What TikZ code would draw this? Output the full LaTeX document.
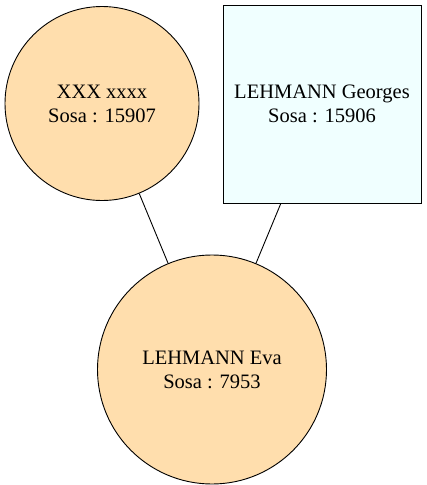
\documentclass[tikz,border=0pt]{standalone}
\usepackage{fontspec}
\setmainfont{Liberation Serif}
\definecolor{personfill}{HTML}{FFDEAD}
\definecolor{boxfill}{HTML}{F0FFFF}
\begin{document}
\begin{tikzpicture}[x=1pt,y=-1pt,
  person/.style={circle,draw=black,line width=0.9pt,fill=personfill,inner sep=0pt,align=center,font=\fontsize{20.5}{24}\selectfont},
  personbox/.style={rectangle,draw=black,line width=0.9pt,fill=boxfill,inner sep=0pt,align=center,font=\fontsize{20.5}{24}\selectfont},
  link/.style={draw=black,line width=0.9pt}]
\useasboundingbox (0,0) rectangle (427,485);
\node[person,minimum size=194pt] (xxx) at (102,103.5) {XXX xxxx\\Sosa : 15907};
\node[personbox,minimum width=198pt,minimum height=198pt] (georges) at (322,104) {LEHMANN Georges\\Sosa : 15906};
\node[person,minimum size=229pt] (eva) at (212,369.5) {LEHMANN Eva\\Sosa : 7953};
\draw[link] (xxx) -- (eva);
\draw[link] (georges) -- (eva);
\end{tikzpicture}
\end{document}
